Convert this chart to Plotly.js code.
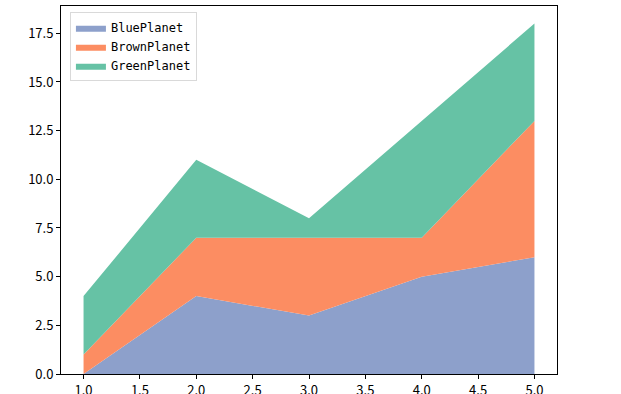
<!DOCTYPE html>
<html>
<head>
<meta charset="utf-8">
<script src="https://cdn.plot.ly/plotly-3.0.1.min.js"></script>
<style>html,body{margin:0;padding:0;background:#fff;}#chart{width:621px;height:394px;}</style>
</head>
<body>
<div id="chart"></div>
<script>
const xValues = [1, 2, 3, 4, 5];
const seriesNames = ["BluePlanet", "BrownPlanet", "GreenPlanet"];
const bluePlanet = [0, 4, 3, 5, 6];
const brownPlanet = [1, 3, 4, 2, 7];
const greenPlanet = [3, 4, 1, 6, 5];
const colors = ["#8da0cb", "#fc8d62", "#66c2a5"];
const xTicks = [1.0, 1.5, 2.0, 2.5, 3.0, 3.5, 4.0, 4.5, 5.0];
const yTicks = [0.0, 2.5, 5.0, 7.5, 10.0, 12.5, 15.0, 17.5];

const allSeries = [bluePlanet, brownPlanet, greenPlanet];
const traces = allSeries.map((vals, i) => ({
  x: xValues,
  y: vals,
  name: seriesNames[i],
  type: "scatter",
  mode: "lines",
  stackgroup: "one",
  line: {width: 0, color: colors[i]},
  fillcolor: colors[i],
  hoverinfo: "skip"
}));

const font = {family: "Noto Sans CJK SC, DejaVu Sans", size: 13, color: "#000"};
const layout = {
  width: 621, height: 394,
  margin: {l: 61, r: 64, t: 6, b: 20},
  paper_bgcolor: "#fff", plot_bgcolor: "#fff",
  font: font,
  showlegend: true,
  legend: {
    x: 0.018, y: 0.983, xanchor: "left", yanchor: "top",
    bgcolor: "rgba(255,255,255,0.8)", bordercolor: "#d9d9d9", borderwidth: 1,
    font: {family: "DejaVu Sans Mono, Liberation Mono", size: 12, color: "#000"},
    traceorder: "normal", itemwidth: 30
  },
  xaxis: {
    range: [0.8, 5.2], tickvals: xTicks, tickformat: ".1f",
    showgrid: false, zeroline: false,
    showline: true, mirror: true, linecolor: "#000", linewidth: 1,
    ticks: "outside", ticklen: 4, tickcolor: "#000"
  },
  yaxis: {
    range: [0, 18.9], tickvals: yTicks, tickformat: ".1f",
    showgrid: false, zeroline: false,
    showline: true, mirror: true, linecolor: "#000", linewidth: 1,
    ticks: "outside", ticklen: 4, tickcolor: "#000"
  }
};
Plotly.newPlot("chart", traces, layout, {displayModeBar: false, staticPlot: true});
</script>
</body>
</html>
